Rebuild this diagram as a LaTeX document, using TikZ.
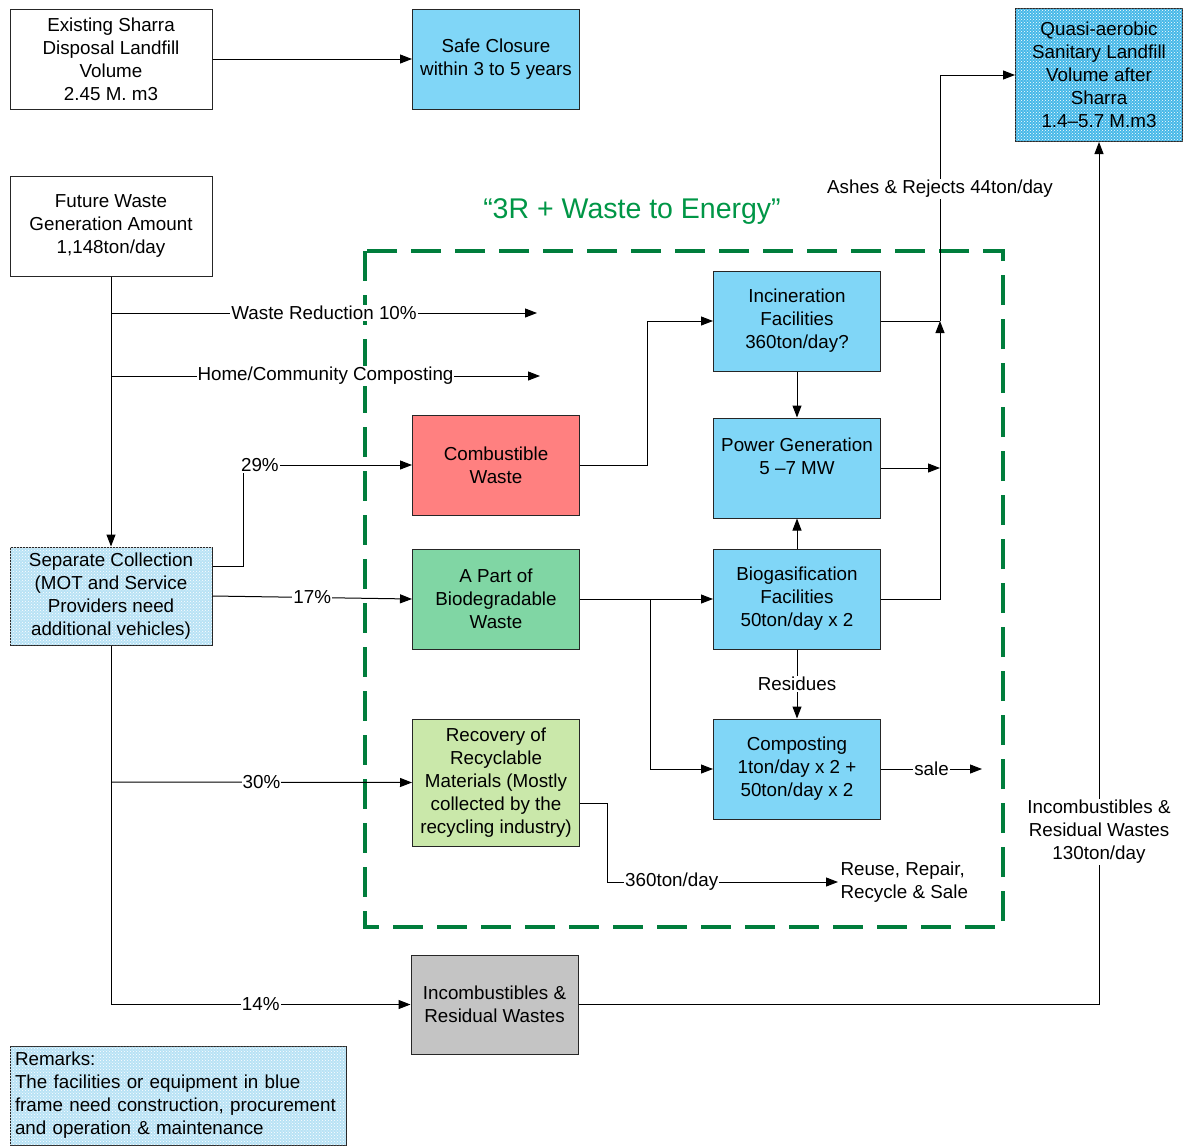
\documentclass[tikz,border=0pt]{standalone}
\usepackage{fontspec}
\setmainfont{Liberation Sans}
\usetikzlibrary{arrows.meta,positioning,patterns}
\definecolor{skyblue}{RGB}{128,214,247}
\definecolor{quasiblue}{RGB}{70,184,232}
\definecolor{sepblue}{RGB}{184,226,245}
\definecolor{redbox}{RGB}{255,128,128}
\definecolor{greenbox}{RGB}{128,214,164}
\definecolor{lightgreen}{RGB}{202,232,170}
\definecolor{graybox}{RGB}{196,196,196}
\definecolor{dashgreen}{RGB}{0,125,60}
\definecolor{titlegreen}{RGB}{0,150,70}

\begin{document}
\begin{tikzpicture}[x=1pt, y=-1pt, line width=1pt,
  >={Triangle[length=12pt,width=9pt]},
  box/.style={draw=black!85, minimum width=167pt, minimum height=100pt,
    align=center, inner sep=0pt},
  dotted box/.style={box, fill=#1, postaction={pattern=crosshatch dots, pattern color=white}},
  lbl/.style={fill=white, inner sep=1pt},
  font=\fontsize{18.8}{23}\selectfont]

  \useasboundingbox (0,0) rectangle (1188,1146);

  %% left column
  \node[box, minimum width=202pt] (sharra) at (111,59) {Existing Sharra\\Disposal Landfill\\Volume\\2.45 M. m3};
  \node[box, minimum width=202pt] (future) at (111,226) {Future Waste\\Generation Amount\\1,148ton/day};
  \node[dotted box=sepblue, minimum width=202pt, minimum height=98pt] (sep) at (111,596) {Separate Collection\\(MOT and Service\\Providers need\\additional vehicles)};
  \node[dotted box=sepblue, minimum width=336pt, minimum height=99pt, text width=326pt, align=left] (remarks) at (178,1095.5) {Remarks:\\The facilities or equipment in blue\\frame need construction, procurement\\and operation \& maintenance};

  %% top
  \node[box, fill=skyblue] (closure) at (496,59) {Safe Closure\\within 3 to 5 years};
  \node[dotted box=quasiblue, minimum height=133pt] (quasi) at (1099,75) {Quasi-aerobic\\Sanitary Landfill\\Volume after\\Sharra\\1.4–5.7 M.m3};

  %% 3R area
  \node[text=titlegreen, font=\fontsize{28.5}{33}\selectfont] (title) at (632,212) {“3R + Waste to Energy”};
  \draw[dashgreen, line width=4pt, dash pattern=on 30pt off 14pt] (365,251) rectangle (1003,927);

  \node[box, fill=redbox] (comb) at (496,465) {Combustible\\Waste};
  \node[box, fill=greenbox] (bio) at (496,599) {A Part of\\Biodegradable\\Waste};
  \node[box, fill=lightgreen, minimum height=127pt] (recov) at (496,782.5) {Recovery of\\Recyclable\\Materials (Mostly\\collected by the\\recycling industry)};

  \node[box, fill=skyblue] (incin) at (797,321) {Incineration\\Facilities\\360ton/day?};
  \node[box, fill=skyblue] (power) at (797,468) {Power Generation\\5 –7 MW\\~};
  \node[box, fill=skyblue] (biogas) at (797,599) {Biogasification\\Facilities\\50ton/day x 2};
  \node[box, fill=skyblue] (compost) at (797,769) {Composting\\1ton/day x 2 +\\50ton/day x 2};
  \node[anchor=west, align=left, inner sep=2pt] (reuse) at (838,882) {Reuse, Repair,\\Recycle \& Sale};

  \node[box, fill=graybox, minimum height=99pt] (incomb) at (494.5,1004.5) {Incombustibles \&\\Residual Wastes};

  %% free ends and bends
  \coordinate (reduce) at (537,313);
  \coordinate (home) at (540,376);
  \coordinate (j29) at (243,566);
  \coordinate (j30) at (111,782);
  \coordinate (j14) at (111,1004.5);
  \coordinate (jc) at (647,465);
  \coordinate (jb) at (650,599);
  \coordinate (jr) at (607,803);
  \coordinate (ashbot) at (940,599);
  \coordinate (ashmid) at (940,321);
  \coordinate (ashtop) at (940,75);
  \coordinate (saleend) at (982,769);

  \draw[->] (sharra) -- (closure); %% sharra->closure
  \draw[->] (future) -- (sep); %% future->sep
  \draw[->] (future.south |- reduce) -- node[lbl]{Waste Reduction 10\%} (reduce);
  \draw[->] (future.south |- home) -- node[lbl]{Home/Community Composting} (home);

  \draw[->] (sep.east |- j29) -- (j29) |- node[lbl, pos=0.55]{29\%} (comb.west);
  \draw[->] (sep.east) -- node[lbl]{17\%} (bio.west);
  \draw (sep.south) -- (j14);
  \draw[->] (j30) -- node[lbl]{30\%} (recov.west);
  \draw[->] (j14) -- node[lbl]{14\%} (incomb.west);

  \draw[->] (comb.east) -- (jc) |- (incin.west); %% comb->incin
  \draw[->] (incin) -- (power);
  \draw[->] (biogas) -- (power);
  \draw[->] (bio.east) -- (biogas.west);
  \draw[->] (jb) |- (compost.west);
  \draw[->] (biogas) -- node[lbl]{Residues} (compost);
  \draw[->] (compost.east) -- node[lbl]{sale} (saleend);
  \draw[->] (recov.east |- jr) -- (jr) |- node[lbl, pos=0.64]{360ton/day} (reuse.west);

  %% ashes to landfill
  \draw (incin.east) -- (ashmid);
  \draw[->] (power.east) -- (power.east -| ashbot);
  \draw[->] (biogas.east) -- (ashbot) -- (ashmid);
  \draw[->] (ashmid) -- (ashtop) -- (quasi.west);
  \node[lbl] (ashes) at (940,189) {Ashes \& Rejects 44ton/day};

  \draw[->] (incomb.east) -| node[lbl, pos=0.6, align=center]{Incombustibles \&\\Residual Wastes\\130ton/day} (quasi.south);
\end{tikzpicture}
\end{document}
